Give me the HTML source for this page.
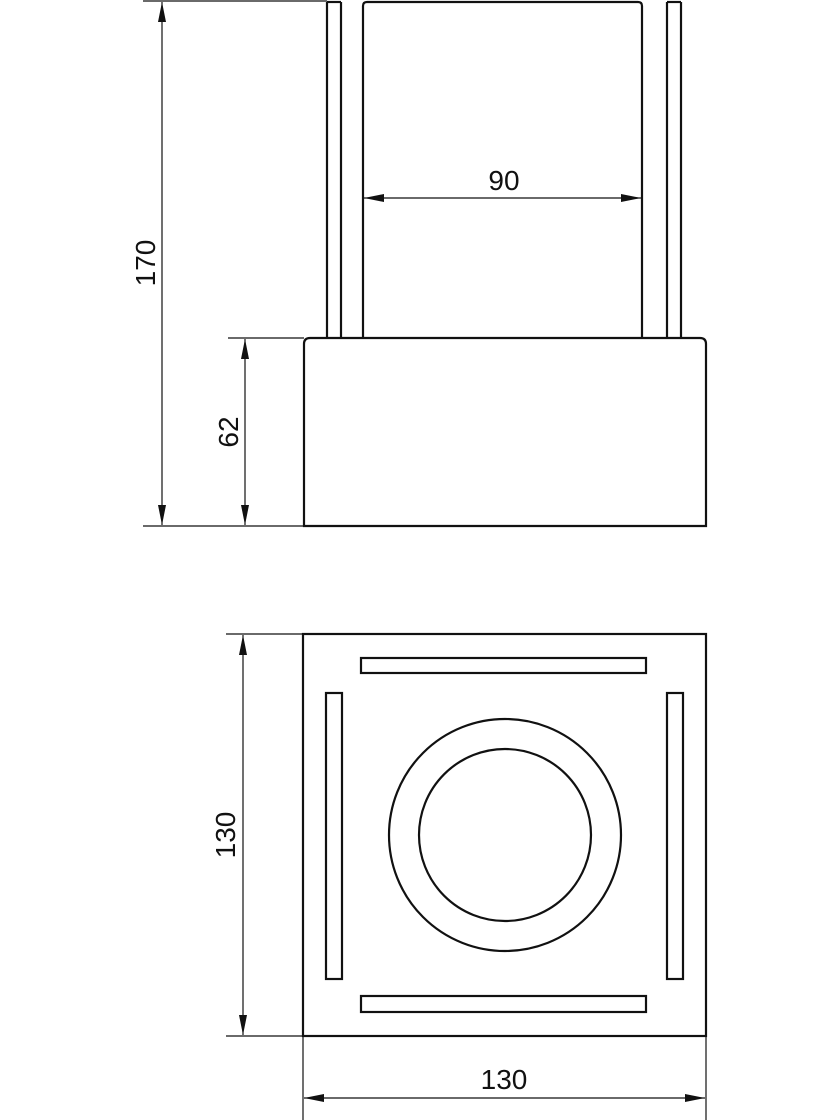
<!DOCTYPE html>
<html><head><meta charset="utf-8"><style>body{margin:0;background:#fff}svg{display:block}</style></head><body>
<svg width="840" height="1120" viewBox="0 0 840 1120" xmlns="http://www.w3.org/2000/svg">
<defs>
<marker id="a" viewBox="0 0 20 8" refX="20" refY="4" markerWidth="20" markerHeight="8" markerUnits="userSpaceOnUse" orient="auto-start-reverse"><path d="M0,0 L20,4 L0,8 Z" fill="#111"/></marker>
</defs>
<g fill="none" stroke="#111" stroke-width="2.2">
<line x1="327" y1="2" x2="327" y2="338"/><line x1="341" y1="2" x2="341" y2="338"/>
<line x1="327" y1="2" x2="341" y2="2"/>
<line x1="667" y1="2" x2="667" y2="338"/><line x1="681" y1="2" x2="681" y2="338"/>
<line x1="667" y1="2" x2="681" y2="2"/>
<path d="M363,338 L363,6 Q363,2 367,2 L638,2 Q642,2 642,6 L642,338"/>
<path d="M304,526 L304,344 Q304,338 310,338 L700,338 Q706,338 706,344 L706,526 Z"/>
<rect x="303" y="634" width="403" height="402"/>
<rect x="361" y="658" width="285" height="15"/>
<rect x="361" y="996" width="285" height="16"/>
<rect x="326" y="693" width="16" height="286"/>
<rect x="667" y="693" width="16" height="286"/>
<circle cx="505" cy="835" r="116"/>
<circle cx="505" cy="835" r="86"/>
</g>
<g stroke="#111" stroke-width="1.2" fill="none">
<line x1="143" y1="1" x2="327" y2="1"/>
<line x1="143" y1="526" x2="304" y2="526"/>
<line x1="228" y1="338" x2="304" y2="338"/>
<line x1="162" y1="2" x2="162" y2="525" marker-start="url(#a)" marker-end="url(#a)"/>
<line x1="245" y1="339" x2="245" y2="525" marker-start="url(#a)" marker-end="url(#a)"/>
<line x1="364" y1="198" x2="641" y2="198" marker-start="url(#a)" marker-end="url(#a)"/>
<line x1="226" y1="634" x2="303" y2="634"/>
<line x1="226" y1="1036" x2="303" y2="1036"/>
<line x1="243" y1="635" x2="243" y2="1035" marker-start="url(#a)" marker-end="url(#a)"/>
<line x1="303" y1="1036" x2="303" y2="1120"/>
<line x1="706" y1="1036" x2="706" y2="1120"/>
<line x1="304" y1="1098" x2="705" y2="1098" marker-start="url(#a)" marker-end="url(#a)"/>
</g>
<g font-family="'Liberation Sans',sans-serif" font-size="28" fill="#111" text-anchor="middle">
<text x="504" y="190">90</text>
<text x="504" y="1089">130</text>
<text transform="translate(155,263) rotate(-90)">170</text>
<text transform="translate(238,432) rotate(-90)">62</text>
<text transform="translate(235,835) rotate(-90)">130</text>
</g>
</svg>
</body></html>
